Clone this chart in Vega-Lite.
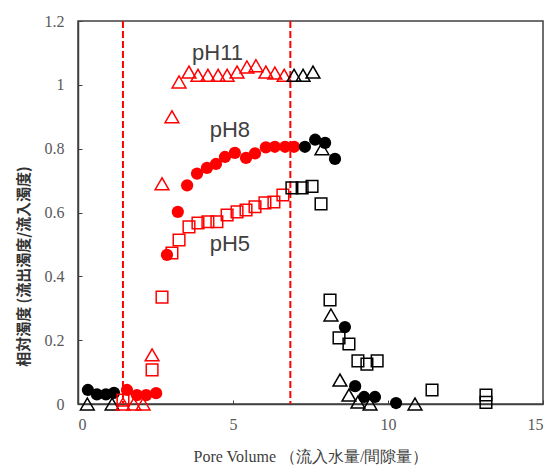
{
  "$schema": "https://vega.github.io/schema/vega-lite/v6.json",
  "width": 465,
  "height": 383,
  "autosize": {"type": "none"},
  "padding": {"left": 78, "top": 21, "right": 8, "bottom": 62},
  "background": "white",
  "config": {
    "view": {"stroke": "#404040", "strokeWidth": 1.5},
    "axis": {
      "grid": false,
      "domainColor": "#404040",
      "domainWidth": 1.5,
      "tickColor": "#404040",
      "labelFont": "Liberation Serif",
      "labelFontSize": 16,
      "labelColor": "#595959"
    }
  },
  "datasets": {
    "points": [
      {"series": "pH11", "phase": "pre", "x": 0.3, "y": 0.0},
      {"series": "pH11", "phase": "pre", "x": 1.1, "y": 0.0},
      {"series": "pH11", "phase": "injection", "x": 1.45, "y": 0.0},
      {"series": "pH11", "phase": "injection", "x": 1.8, "y": 0.0},
      {"series": "pH11", "phase": "injection", "x": 2.1, "y": 0.0},
      {"series": "pH11", "phase": "injection", "x": 2.39, "y": 0.154},
      {"series": "pH11", "phase": "injection", "x": 2.71, "y": 0.69},
      {"series": "pH11", "phase": "injection", "x": 3.03, "y": 0.9},
      {"series": "pH11", "phase": "injection", "x": 3.26, "y": 1.009},
      {"series": "pH11", "phase": "injection", "x": 3.58, "y": 1.04},
      {"series": "pH11", "phase": "injection", "x": 3.87, "y": 1.03},
      {"series": "pH11", "phase": "injection", "x": 4.19, "y": 1.03},
      {"series": "pH11", "phase": "injection", "x": 4.52, "y": 1.03},
      {"series": "pH11", "phase": "injection", "x": 4.81, "y": 1.03},
      {"series": "pH11", "phase": "injection", "x": 5.13, "y": 1.04},
      {"series": "pH11", "phase": "injection", "x": 5.45, "y": 1.056},
      {"series": "pH11", "phase": "injection", "x": 5.74, "y": 1.06},
      {"series": "pH11", "phase": "injection", "x": 6.06, "y": 1.04},
      {"series": "pH11", "phase": "injection", "x": 6.35, "y": 1.037},
      {"series": "pH11", "phase": "injection", "x": 6.65, "y": 1.03},
      {"series": "pH11", "phase": "post", "x": 6.97, "y": 1.03},
      {"series": "pH11", "phase": "post", "x": 7.26, "y": 1.03},
      {"series": "pH11", "phase": "post", "x": 7.58, "y": 1.04},
      {"series": "pH11", "phase": "post", "x": 7.87, "y": 0.8},
      {"series": "pH11", "phase": "post", "x": 8.16, "y": 0.279},
      {"series": "pH11", "phase": "post", "x": 8.45, "y": 0.075},
      {"series": "pH11", "phase": "post", "x": 8.74, "y": 0.028},
      {"series": "pH11", "phase": "post", "x": 9.03, "y": 0.006},
      {"series": "pH11", "phase": "post", "x": 9.42, "y": 0.0},
      {"series": "pH11", "phase": "post", "x": 10.87, "y": 0.0},
      {"series": "pH5", "phase": "injection", "x": 1.45, "y": 0.012},
      {"series": "pH5", "phase": "injection", "x": 2.39, "y": 0.107},
      {"series": "pH5", "phase": "injection", "x": 2.71, "y": 0.335},
      {"series": "pH5", "phase": "injection", "x": 3.03, "y": 0.473},
      {"series": "pH5", "phase": "injection", "x": 3.26, "y": 0.514},
      {"series": "pH5", "phase": "injection", "x": 3.58, "y": 0.555},
      {"series": "pH5", "phase": "injection", "x": 3.87, "y": 0.567},
      {"series": "pH5", "phase": "injection", "x": 4.19, "y": 0.571},
      {"series": "pH5", "phase": "injection", "x": 4.48, "y": 0.571},
      {"series": "pH5", "phase": "injection", "x": 4.81, "y": 0.592},
      {"series": "pH5", "phase": "injection", "x": 5.13, "y": 0.602},
      {"series": "pH5", "phase": "injection", "x": 5.42, "y": 0.608},
      {"series": "pH5", "phase": "injection", "x": 5.71, "y": 0.618},
      {"series": "pH5", "phase": "injection", "x": 6.03, "y": 0.63},
      {"series": "pH5", "phase": "injection", "x": 6.32, "y": 0.633},
      {"series": "pH5", "phase": "injection", "x": 6.61, "y": 0.655},
      {"series": "pH5", "phase": "post", "x": 6.9, "y": 0.677},
      {"series": "pH5", "phase": "post", "x": 7.23, "y": 0.677},
      {"series": "pH5", "phase": "post", "x": 7.55, "y": 0.682},
      {"series": "pH5", "phase": "post", "x": 7.84, "y": 0.627},
      {"series": "pH5", "phase": "post", "x": 8.13, "y": 0.326},
      {"series": "pH5", "phase": "post", "x": 8.42, "y": 0.207},
      {"series": "pH5", "phase": "post", "x": 8.74, "y": 0.188},
      {"series": "pH5", "phase": "post", "x": 9.03, "y": 0.135},
      {"series": "pH5", "phase": "post", "x": 9.32, "y": 0.125},
      {"series": "pH5", "phase": "post", "x": 9.65, "y": 0.135},
      {"series": "pH5", "phase": "post", "x": 11.42, "y": 0.044},
      {"series": "pH5", "phase": "post", "x": 13.16, "y": 0.028},
      {"series": "pH5", "phase": "post", "x": 13.16, "y": 0.005},
      {"series": "pH8", "phase": "pre", "x": 0.32, "y": 0.044},
      {"series": "pH8", "phase": "pre", "x": 0.61, "y": 0.03},
      {"series": "pH8", "phase": "pre", "x": 0.9, "y": 0.03},
      {"series": "pH8", "phase": "pre", "x": 1.16, "y": 0.035},
      {"series": "pH8", "phase": "injection", "x": 1.58, "y": 0.044},
      {"series": "pH8", "phase": "injection", "x": 1.9, "y": 0.028},
      {"series": "pH8", "phase": "injection", "x": 2.2, "y": 0.028},
      {"series": "pH8", "phase": "injection", "x": 2.52, "y": 0.034},
      {"series": "pH8", "phase": "injection", "x": 2.87, "y": 0.467},
      {"series": "pH8", "phase": "injection", "x": 3.22, "y": 0.602},
      {"series": "pH8", "phase": "injection", "x": 3.52, "y": 0.685},
      {"series": "pH8", "phase": "injection", "x": 3.84, "y": 0.722},
      {"series": "pH8", "phase": "injection", "x": 4.16, "y": 0.74},
      {"series": "pH8", "phase": "injection", "x": 4.45, "y": 0.752},
      {"series": "pH8", "phase": "injection", "x": 4.74, "y": 0.774},
      {"series": "pH8", "phase": "injection", "x": 5.06, "y": 0.787},
      {"series": "pH8", "phase": "injection", "x": 5.42, "y": 0.771},
      {"series": "pH8", "phase": "injection", "x": 5.71, "y": 0.785},
      {"series": "pH8", "phase": "injection", "x": 6.06, "y": 0.804},
      {"series": "pH8", "phase": "injection", "x": 6.35, "y": 0.806},
      {"series": "pH8", "phase": "injection", "x": 6.68, "y": 0.806},
      {"series": "pH8", "phase": "injection", "x": 6.97, "y": 0.806},
      {"series": "pH8", "phase": "post", "x": 7.32, "y": 0.806},
      {"series": "pH8", "phase": "post", "x": 7.65, "y": 0.828},
      {"series": "pH8", "phase": "post", "x": 7.97, "y": 0.818},
      {"series": "pH8", "phase": "post", "x": 8.29, "y": 0.768},
      {"series": "pH8", "phase": "post", "x": 8.61, "y": 0.241},
      {"series": "pH8", "phase": "post", "x": 8.94, "y": 0.056},
      {"series": "pH8", "phase": "post", "x": 9.23, "y": 0.022},
      {"series": "pH8", "phase": "post", "x": 9.58, "y": 0.022},
      {"series": "pH8", "phase": "post", "x": 10.26, "y": 0.003}
    ],
    "markers": [{"x": 1.45}, {"x": 6.85}],
    "labels": [
      {"label": "pH11", "x": 4.5, "y": 1.1},
      {"label": "pH8", "x": 4.9, "y": 0.86},
      {"label": "pH5", "x": 4.9, "y": 0.5}
    ]
  },
  "layer": [
    {
      "data": {"name": "markers"},
      "mark": {"type": "rule", "color": "#FF0000", "strokeWidth": 2, "strokeDash": [7, 3]},
      "encoding": {
        "x": {"field": "x", "type": "quantitative", "scale": {"domain": [0, 15]}}
      }
    },
    {
      "data": {"name": "points"},
      "transform": [{"filter": "datum.series == 'pH8'"}],
      "mark": {"type": "point", "filled": true, "shape": "circle", "size": 150, "opacity": 1},
      "encoding": {
        "x": {"field": "x", "type": "quantitative", "scale": {"domain": [0, 15]}},
        "y": {"field": "y", "type": "quantitative", "scale": {"domain": [0, 1.2]}},
        "color": {"field": "phase", "type": "nominal", "scale": {"domain": ["pre", "injection", "post"], "range": ["#000000", "#FF0000", "#000000"]}, "legend": null}
      }
    },
    {
      "data": {"name": "points"},
      "transform": [{"filter": "datum.series == 'pH11'"}],
      "mark": {"type": "point", "filled": false, "shape": "triangle-up", "size": 190, "strokeWidth": 1.5, "opacity": 1},
      "encoding": {
        "x": {"field": "x", "type": "quantitative", "scale": {"domain": [0, 15]}},
        "y": {"field": "y", "type": "quantitative", "scale": {"domain": [0, 1.2]}},
        "color": {"field": "phase", "type": "nominal", "scale": {"domain": ["pre", "injection", "post"], "range": ["#000000", "#FF0000", "#000000"]}, "legend": null}
      }
    },
    {
      "data": {"name": "points"},
      "transform": [{"filter": "datum.series == 'pH5'"}],
      "mark": {"type": "point", "filled": false, "shape": "square", "size": 135, "strokeWidth": 1.5, "opacity": 1},
      "encoding": {
        "x": {
          "field": "x", "type": "quantitative",
          "scale": {"domain": [0, 15]},
          "axis": {
            "values": [0, 5, 10, 15],
            "tickSize": -4,
            "labelPadding": 16,
            "title": "Pore Volume （流入水量/間隙量）",
            "titleFont": "Liberation Serif",
            "titleFontSize": 16,
            "titleFontWeight": "normal",
            "titleColor": "#404040",
            "titleBaseline": "middle",
            "titleY": 52
          }
        },
        "y": {
          "field": "y", "type": "quantitative",
          "scale": {"domain": [0, 1.2]},
          "axis": {
            "values": [0, 0.2, 0.4, 0.6, 0.8, 1.0, 1.2],
            "format": "~g",
            "tickSize": -4,
            "labelPadding": 18,
            "title": "相対濁度 (流出濁度/流入濁度)",
            "titleFont": "Noto Sans CJK JP",
            "titleFontSize": 15,
            "titleFontWeight": "bold",
            "titleColor": "#333333",
            "titleBaseline": "middle",
            "titleAlign": "center",
            "titleX": -55,
            "titleY": 245
          }
        },
        "color": {"field": "phase", "type": "nominal", "scale": {"domain": ["pre", "injection", "post"], "range": ["#000000", "#FF0000", "#000000"]}, "legend": null}
      }
    },
    {
      "data": {"name": "labels"},
      "mark": {"type": "text", "font": "Liberation Sans", "fontSize": 22, "color": "#404040", "baseline": "middle", "align": "center"},
      "encoding": {
        "x": {"field": "x", "type": "quantitative", "scale": {"domain": [0, 15]}},
        "y": {"field": "y", "type": "quantitative", "scale": {"domain": [0, 1.2]}},
        "text": {"field": "label"}
      }
    }
  ]
}
